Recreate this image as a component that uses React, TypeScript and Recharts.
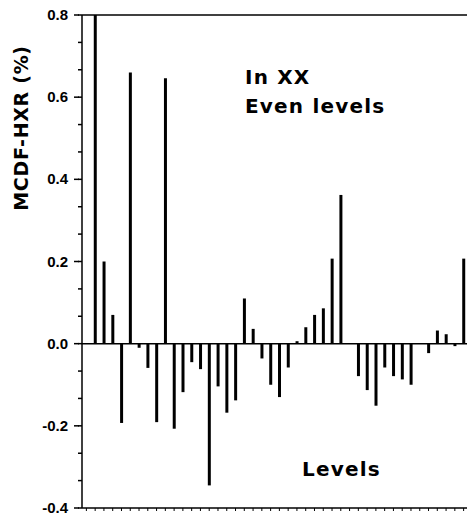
import { BarChart, Bar, XAxis, YAxis, ReferenceLine } from 'recharts';

const levels = [
    0, 2, 4, 6, 8, 10, 12, 14, 16, 18, 20, 22, 24, 26, 28, 30, 32, 34, 36, 38, 40, 42,
    44, 46, 48, 50, 52, 54, 56, 58, 60, 62, 64, 66, 68, 70, 72, 74, 76, 78, 80, 82, 84, 86,
];

const mcdf = [
    0, 0.8, 0.2, 0.07, -0.193, 0.66, -0.01, -0.059, -0.191, 0.646, -0.207, -0.118, -0.045, -0.062,
    -0.345, -0.104, -0.168, -0.138, 0.11, 0.036, -0.036, -0.1, -0.13, -0.058, 0.006, 0.04, 0.07,
    0.086, 0.207, 0.362, 0, -0.079, -0.113, -0.151, -0.058, -0.079, -0.087, -0.1, 0, -0.023,
    0.032, 0.023, -0.006, 0.207,
];

// major ticks every 0.2, minor ticks at thirds in between
const yTicks = [
    -0.4, -0.3333, -0.2667, -0.2, -0.1333, -0.0667, 0, 0.0667, 0.1333, 0.2, 0.2667, 0.3333,
    0.4, 0.4667, 0.5333, 0.6, 0.6667, 0.7333, 0.8,
];
const yLabels: Record<string, string> = {
    '-0.4': '-0.4', '-0.2': '-0.2', '0': '0.0', '0.2': '0.2', '0.4': '0.4', '0.6': '0.6', '0.8': '0.8',
};

const data = levels.map((level, i) => ({ level, value: mcdf[i] }));

const AXIS_X = 82;

const YTick = (props: any) => {
    const { y, payload } = props;
    const label = yLabels[String(payload.value)];
    if (!label) return <g />;
    return (
        <g>
            <rect x={AXIS_X - 8} y={y - 0.75} width={5} height={1.5} fill="#000" />
            <text x={68} y={y + 5} textAnchor="end" fontFamily="Liberation Sans, Arial, sans-serif"
                fontWeight="bold" fontSize={15} fill="#000">{label}</text>
        </g>
    );
};

const App = () => {
    return (
        <div style={{ position: 'absolute', left: 0, top: 0, width: 467, height: 516, overflow: 'hidden', background: '#fff' }}>
            <BarChart width={480} height={516} data={data} barSize={3}
                margin={{ top: 15, right: 12, left: 0, bottom: 0 }}>
                <XAxis dataKey="level" height={8} interval={0} tick={() => null} tickSize={3}
                    axisLine={{ stroke: '#000', strokeWidth: 1.5 }} tickLine={{ stroke: '#000', strokeWidth: 1 }} />
                <YAxis width={AXIS_X} domain={[-0.4, 0.8]} ticks={yTicks} interval={0} tickSize={4}
                    stroke="#000" tickLine={{ stroke: '#000', strokeWidth: 1.5 }} tick={<YTick />}
                    axisLine={{ stroke: '#000', strokeWidth: 1.5 }} />
                <ReferenceLine y={0.8} stroke="#000" strokeWidth={1.5} />
                <ReferenceLine y={0} stroke="#000" strokeWidth={1.5} />
                <Bar dataKey="value" fill="#000" isAnimationActive={false} />
            </BarChart>
            <svg width={467} height={516} style={{ position: 'absolute', left: 0, top: 0, pointerEvents: 'none' }}>
                <g fontFamily="DejaVu Sans, sans-serif" fontWeight="bold" fill="#000">
                    <text x={245} y={84} fontSize={20} letterSpacing={1.2}>In XX</text>
                    <text x={245} y={113} fontSize={20} letterSpacing={1.2}>Even levels</text>
                    <text x={302} y={476} fontSize={20} letterSpacing={1.2}>Levels</text>
                    <text transform="translate(28,128) rotate(-90)" textAnchor="middle" fontSize={19}
                        letterSpacing={0.7}>MCDF-HXR (%)</text>
                </g>
            </svg>
        </div>
    );
};

export default App;
